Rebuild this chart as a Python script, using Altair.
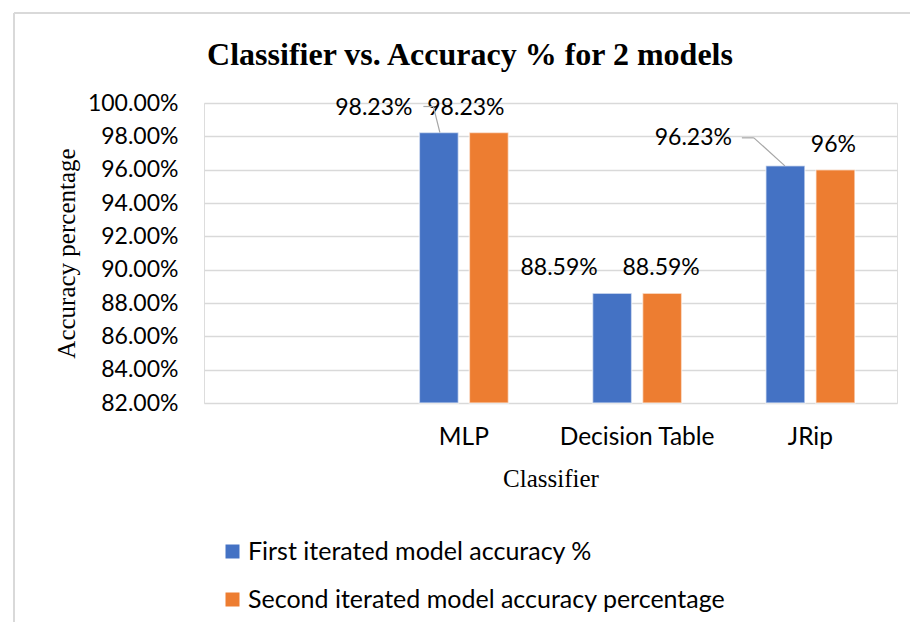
import altair as alt
import pandas as pd

# ---------------- data ----------------
categories = [" ", "MLP", "Decision Table", "JRip"]
series = ["First iterated model accuracy %", "Second iterated model accuracy percentage"]
first_vals = [None, 98.23, 88.59, 96.23]
second_vals = [None, 98.23, 88.59, 96.0]
first_labels = [None, "98.23%", "88.59%", "96.23%"]
second_labels = [None, "98.23%", "88.59%", "96%"]
y_ticks = [82, 84, 86, 88, 90, 92, 94, 96, 98, 100]
title_text = "Classifier vs. Accuracy % for 2 models"

# ---------------- styles ----------------
colors = ["#4472C4", "#ED7D31"]
first_dx = [None, -65, -53, -92]
first_dy = [None, -25, -25, -28]
second_dx = [None, -23, -1, -2]
second_dy = [None, -25, -25, -25]
# leader lines (pixel offsets from category centre / bar top): (category, x1, y1, x2, y2)
leaders = [
    ("MLP", -40.5, -26, -30.5, -26),
    ("MLP", -30.5, -26, -24.0, 0),
    ("JRip", -68.5, -28, -56.5, -28),
    ("JRip", -56.5, -28, -25.5, 0),
]

SANS = "Lato"
SERIF = "Liberation Serif"
W, H = 693, 300

rows = []
for c, v1, v2, l1, l2 in zip(categories, first_vals, second_vals, first_labels, second_labels):
    if v1 is not None:
        rows.append({"Classifier": c, "Series": series[0], "Value": v1, "Label": l1})
        rows.append({"Classifier": c, "Series": series[1], "Value": v2, "Label": l2})
df = pd.DataFrame(rows)

x_enc = alt.X(
    "Classifier:N",
    sort=categories,
    scale=alt.Scale(domain=categories, paddingInner=0.486, paddingOuter=0.243),
    axis=alt.Axis(
        title="Classifier", labelAngle=0, ticks=False, tickSize=0, domain=False,
        labelPadding=22, labelFont=SANS, labelFontSize=24.5, labelColor="#000000",
        titleFont=SERIF, titleFontSize=25, titleFontWeight="normal", titleColor="#000000",
        titleY=75, titleBaseline="middle",
    ),
)
xoff_enc = alt.XOffset("Series:N", scale=alt.Scale(domain=series, paddingInner=0.22, paddingOuter=0))
y_scale = alt.Scale(domain=[82, 100], zero=False, nice=False)
y_enc = alt.Y(
    "Value:Q",
    scale=y_scale,
    axis=alt.Axis(
        title="Accuracy percentage", values=y_ticks,
        labelExpr="format(datum.value, '.2f') + '%'",
        ticks=False, tickSize=0, domain=False, labelPadding=26,
        labelFont=SANS, labelFontSize=23, labelColor="#000000",
        grid=True, gridColor="#d9d9d9", gridWidth=1.5,
        titleFont=SERIF, titleFontSize=25, titleFontWeight="normal", titleColor="#000000",
        titleX=-138, titleY=150, titleAngle=270, titleAlign="center", titleBaseline="middle",
    ),
)

bars = alt.Chart(df).mark_bar(stroke="white", strokeWidth=1.5, strokeOpacity=0.55).encode(
    x=x_enc,
    xOffset=xoff_enc,
    y=y_enc,
    y2=alt.datum(82),
    color=alt.Color(
        "Series:N",
        scale=alt.Scale(domain=series, range=colors),
        legend=alt.Legend(
            title=None, orient="none", legendX=16, legendY=436, direction="vertical",
            symbolType="square", symbolSize=196, symbolStrokeWidth=0,
            labelFont=SANS, labelFontSize=25, labelColor="#000000",
            rowPadding=22, labelOffset=3, labelLimit=700,
        ),
    ),
)

layers = [bars]

# data labels
for i, c in enumerate(categories):
    if first_vals[i] is None:
        continue
    for s, dx, dy in ((series[0], first_dx[i], first_dy[i]), (series[1], second_dx[i], second_dy[i])):
        sub = df[(df["Classifier"] == c) & (df["Series"] == s)]
        layers.append(
            alt.Chart(sub).mark_text(
                font=SANS, fontSize=23, color="#000000", dx=dx, dy=dy, baseline="middle", align="center"
            ).encode(x=x_enc, xOffset=xoff_enc, y=y_enc, text="Label:N")
        )

# leader lines
for cat, x1, y1, x2, y2 in leaders:
    sub = df[(df["Classifier"] == cat) & (df["Series"] == series[0])]
    layers.append(
        alt.Chart(sub).mark_rule(
            color="#a6a6a6", strokeWidth=1.2,
            xOffset=x1, yOffset=y1, x2Offset=x2, y2Offset=y2,
        ).encode(
            x=x_enc, x2=alt.X2("Classifier:N"),
            y=y_enc, y2=alt.Y2("Value:Q"),
        )
    )

# chart title as text
frame_df = pd.DataFrame({"t": [title_text]})
layers.append(
    alt.Chart(frame_df).mark_text(
        font=SERIF, fontSize=32, fontWeight="bold", color="#000000",
        align="center", baseline="alphabetic",
    ).encode(x=alt.value(266), y=alt.value(-38), text="t:N")
)
# outer frame lines
layers.append(
    alt.Chart(frame_df).mark_rule(color="#d9d9d9", strokeWidth=2).encode(
        x=alt.value(-190), y=alt.value(-90), y2=alt.value(540)
    )
)
layers.append(
    alt.Chart(frame_df).mark_rule(color="#d9d9d9", strokeWidth=2).encode(
        x=alt.value(-190), x2=alt.value(720), y=alt.value(-90)
    )
)

chart = alt.layer(*layers).properties(
    width=W, height=H,
    autosize=alt.AutoSizeParams(type="none"),
    padding={"left": 196, "top": 95, "right": 13, "bottom": 219},
).configure_view(stroke=None).configure(background="white")

chart.save("out.html", embed_options={"renderer": "svg", "actions": False})
